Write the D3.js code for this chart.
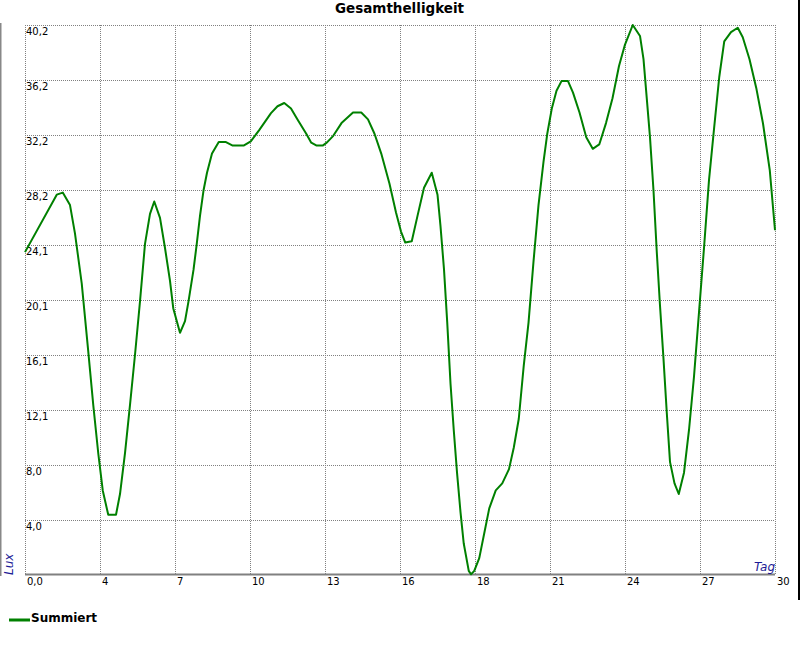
<!DOCTYPE html>
<html>
<head>
<meta charset="utf-8">
<script src="https://cdn.jsdelivr.net/npm/d3@7"></script>
<style>
  html, body { margin: 0; padding: 0; background: #fff; }
  svg { display: block; }
  text { font-family: "DejaVu Sans", Verdana, sans-serif; }
</style>
</head>
<body>
<svg id="chart" width="800" height="650"></svg>
<script>
// ---- Data ----
const chartTitle = "Gesamthelligkeit";
const seriesName = "Summiert";
const xAxisTitle = "Tag";
const yAxisTitle = "Lux";

const days = [
  0, 1.27, 1.51, 1.8, 2.0, 2.27, 2.53, 2.73, 2.93, 3.11, 3.33, 3.64, 3.8, 4.0, 4.2, 4.4, 4.6, 4.8, 5.0, 5.17,
  5.4, 5.6, 5.8, 5.93, 6.07, 6.2, 6.4, 6.54, 6.74, 6.87, 7.0, 7.14, 7.28, 7.48, 7.75, 8.02, 8.29, 8.76, 9.03, 9.36,
  9.84, 10.1, 10.37, 10.64, 10.9, 11.25, 11.45, 11.65, 11.92, 12.07, 12.33, 12.66, 13.12, 13.45, 13.72, 13.98, 14.25, 14.58, 14.84, 15.04,
  15.21, 15.47, 15.7, 15.96, 16.27, 16.5, 16.62, 16.76, 16.89, 17.02, 17.15, 17.28, 17.42, 17.55, 17.75, 17.84, 17.97, 18.17, 18.37, 18.57,
  18.83, 19.09, 19.36, 19.55, 19.75, 19.95, 20.14, 20.34, 20.54, 20.74, 20.89, 21.07, 21.26, 21.46, 21.72, 21.92, 22.18, 22.45, 22.71, 22.97,
  23.24, 23.5, 23.76, 24.0, 24.31, 24.6, 24.74, 24.87, 25.0, 25.14, 25.27, 25.4, 25.54, 25.67, 25.8, 25.98, 26.15, 26.36, 26.56, 26.76,
  26.96, 27.16, 27.36, 27.57, 27.77, 27.97, 28.24, 28.51, 28.71, 28.98, 29.25, 29.52, 29.79, 30.0
];
const luxValues = [
  23.6, 27.8, 27.95, 27.04, 24.95, 21.3, 16.35, 12.44, 8.9, 6.18, 4.4, 4.4, 5.92, 8.9, 12.44, 16.1, 20.0, 24.2, 26.4, 27.3,
  26.1, 23.9, 21.5, 19.5, 18.56, 17.7, 18.56, 20.0, 22.3, 24.2, 26.25, 28.1, 29.4, 30.8, 31.65, 31.65, 31.4, 31.4, 31.7, 32.5,
  33.76, 34.26, 34.5, 34.1, 33.3, 32.25, 31.6, 31.4, 31.4, 31.6, 32.1, 33.03, 33.8, 33.8, 33.3, 32.25, 30.8, 28.6, 26.5, 25.1,
  24.3, 24.4, 26.25, 28.3, 29.4, 27.8, 25.5, 22.34, 18.43, 14.0, 10.6, 7.5, 4.6, 2.3, 0.3, 0.05, 0.3, 1.23, 3.05, 4.87,
  6.18, 6.7, 7.74, 9.3, 11.4, 15.3, 18.43, 22.9, 27.03, 30.2, 32.25, 34.07, 35.4, 36.1, 36.1, 35.26, 33.8, 32.0, 31.15, 31.47,
  33.03, 34.85, 37.2, 38.77, 40.2, 39.4, 37.7, 34.86, 31.99, 28.1, 23.65, 19.7, 15.8, 11.9, 8.27, 6.7, 5.92, 7.48, 10.6, 14.5,
  19.2, 23.9, 28.86, 32.77, 36.4, 39.0, 39.68, 40.0, 39.3, 37.7, 35.6, 33.0, 29.6, 25.2
];

const xTickValues = [0, 3, 6, 9, 12, 15, 18, 21, 24, 27, 30];
const xTickLabels = ["0,0", "4", "7", "10", "13", "16", "18", "21", "24", "27", "30"];
const yTickValues = [0, 4.02, 8.04, 12.06, 16.08, 20.1, 24.12, 28.14, 32.16, 36.18, 40.2];
const yTickLabels = ["0,0", "4,0", "8,0", "12,1", "16,1", "20,1", "24,1", "28,2", "32,2", "36,2", "40,2"];

// ---- Layout ----
const svg = d3.select("#chart");
const plotL = 25, plotR = 775, plotT = 25, plotB = 575;
const x = d3.scaleLinear().domain([0, 30]).range([plotL, plotR]);
const y = d3.scaleLinear().domain([0, 40.2]).range([plotB, plotT]);

const gridColor = "#808080";

// Outer frame lines
svg.append("line").attr("x1", 0.5).attr("x2", 0.5).attr("y1", 23).attr("y2", 576)
  .attr("stroke", "#888").attr("stroke-width", 2);
svg.append("line").attr("x1", 799).attr("x2", 799).attr("y1", 0).attr("y2", 600)
  .attr("stroke", "#000").attr("stroke-width", 2);

// Vertical grid lines
svg.append("g").selectAll("line").data(xTickValues).join("line")
  .attr("x1", d => Math.round(x(d)) + 0.5).attr("x2", d => Math.round(x(d)) + 0.5)
  .attr("y1", plotT).attr("y2", plotB)
  .attr("stroke", gridColor).attr("stroke-width", 1).attr("stroke-dasharray", "1,1");

// Horizontal grid lines
svg.append("g").selectAll("line").data(yTickValues.filter(d => d > 0)).join("line")
  .attr("x1", plotL).attr("x2", plotR)
  .attr("y1", d => Math.round(y(d)) + 0.5).attr("y2", d => Math.round(y(d)) + 0.5)
  .attr("stroke", gridColor).attr("stroke-width", 1).attr("stroke-dasharray", "1,1");

// Bottom axis line
svg.append("line").attr("x1", plotL).attr("x2", plotR).attr("y1", plotB - 0.5).attr("y2", plotB - 0.5)
  .attr("stroke", "#808080").attr("stroke-width", 2);

// Y tick labels
svg.append("g").selectAll("text").data(yTickValues.map((v, i) => ({v, l: yTickLabels[i]})).filter(d => d.v > 0)).join("text")
  .attr("x", plotL + 1).attr("y", d => y(d.v) + 9.5)
  .attr("font-size", 10).attr("fill", "#000")
  .text(d => d.l);

// X tick labels
svg.append("g").selectAll("text").data(xTickValues.map((v, i) => ({v, l: xTickLabels[i]}))).join("text")
  .attr("x", d => x(d.v) + 2).attr("y", 585)
  .attr("font-size", 10).attr("fill", "#000")
  .text(d => d.l);

// Axis titles
svg.append("text").attr("x", plotR).attr("y", 571)
  .attr("text-anchor", "end").attr("font-size", 12).attr("font-style", "italic")
  .attr("fill", "#1c1c96").text(xAxisTitle);
svg.append("text").attr("transform", "translate(12.5,575) rotate(-90)")
  .attr("text-anchor", "start").attr("font-size", 12).attr("font-style", "italic")
  .attr("fill", "#1c1c96").text(yAxisTitle);

// Title
svg.append("text").attr("x", 399.5).attr("y", 12.5)
  .attr("text-anchor", "middle").attr("font-size", 13.5).attr("font-weight", "bold")
  .attr("fill", "#000").text(chartTitle);

// Series line
const pts = days.map((d, i) => [d, luxValues[i]]);
const line = d3.line().x(d => x(d[0])).y(d => y(d[1]));
svg.append("path").datum(pts)
  .attr("d", line).attr("fill", "none")
  .attr("stroke", "#008000").attr("stroke-width", 2).attr("stroke-linejoin", "round");

// Legend
svg.append("line").attr("x1", 9).attr("x2", 30).attr("y1", 620).attr("y2", 620)
  .attr("stroke", "#008000").attr("stroke-width", 3);
svg.append("text").attr("x", 31).attr("y", 621.5)
  .attr("font-size", 12).attr("font-weight", "bold").attr("fill", "#000")
  .text(seriesName);
</script>
</body>
</html>
